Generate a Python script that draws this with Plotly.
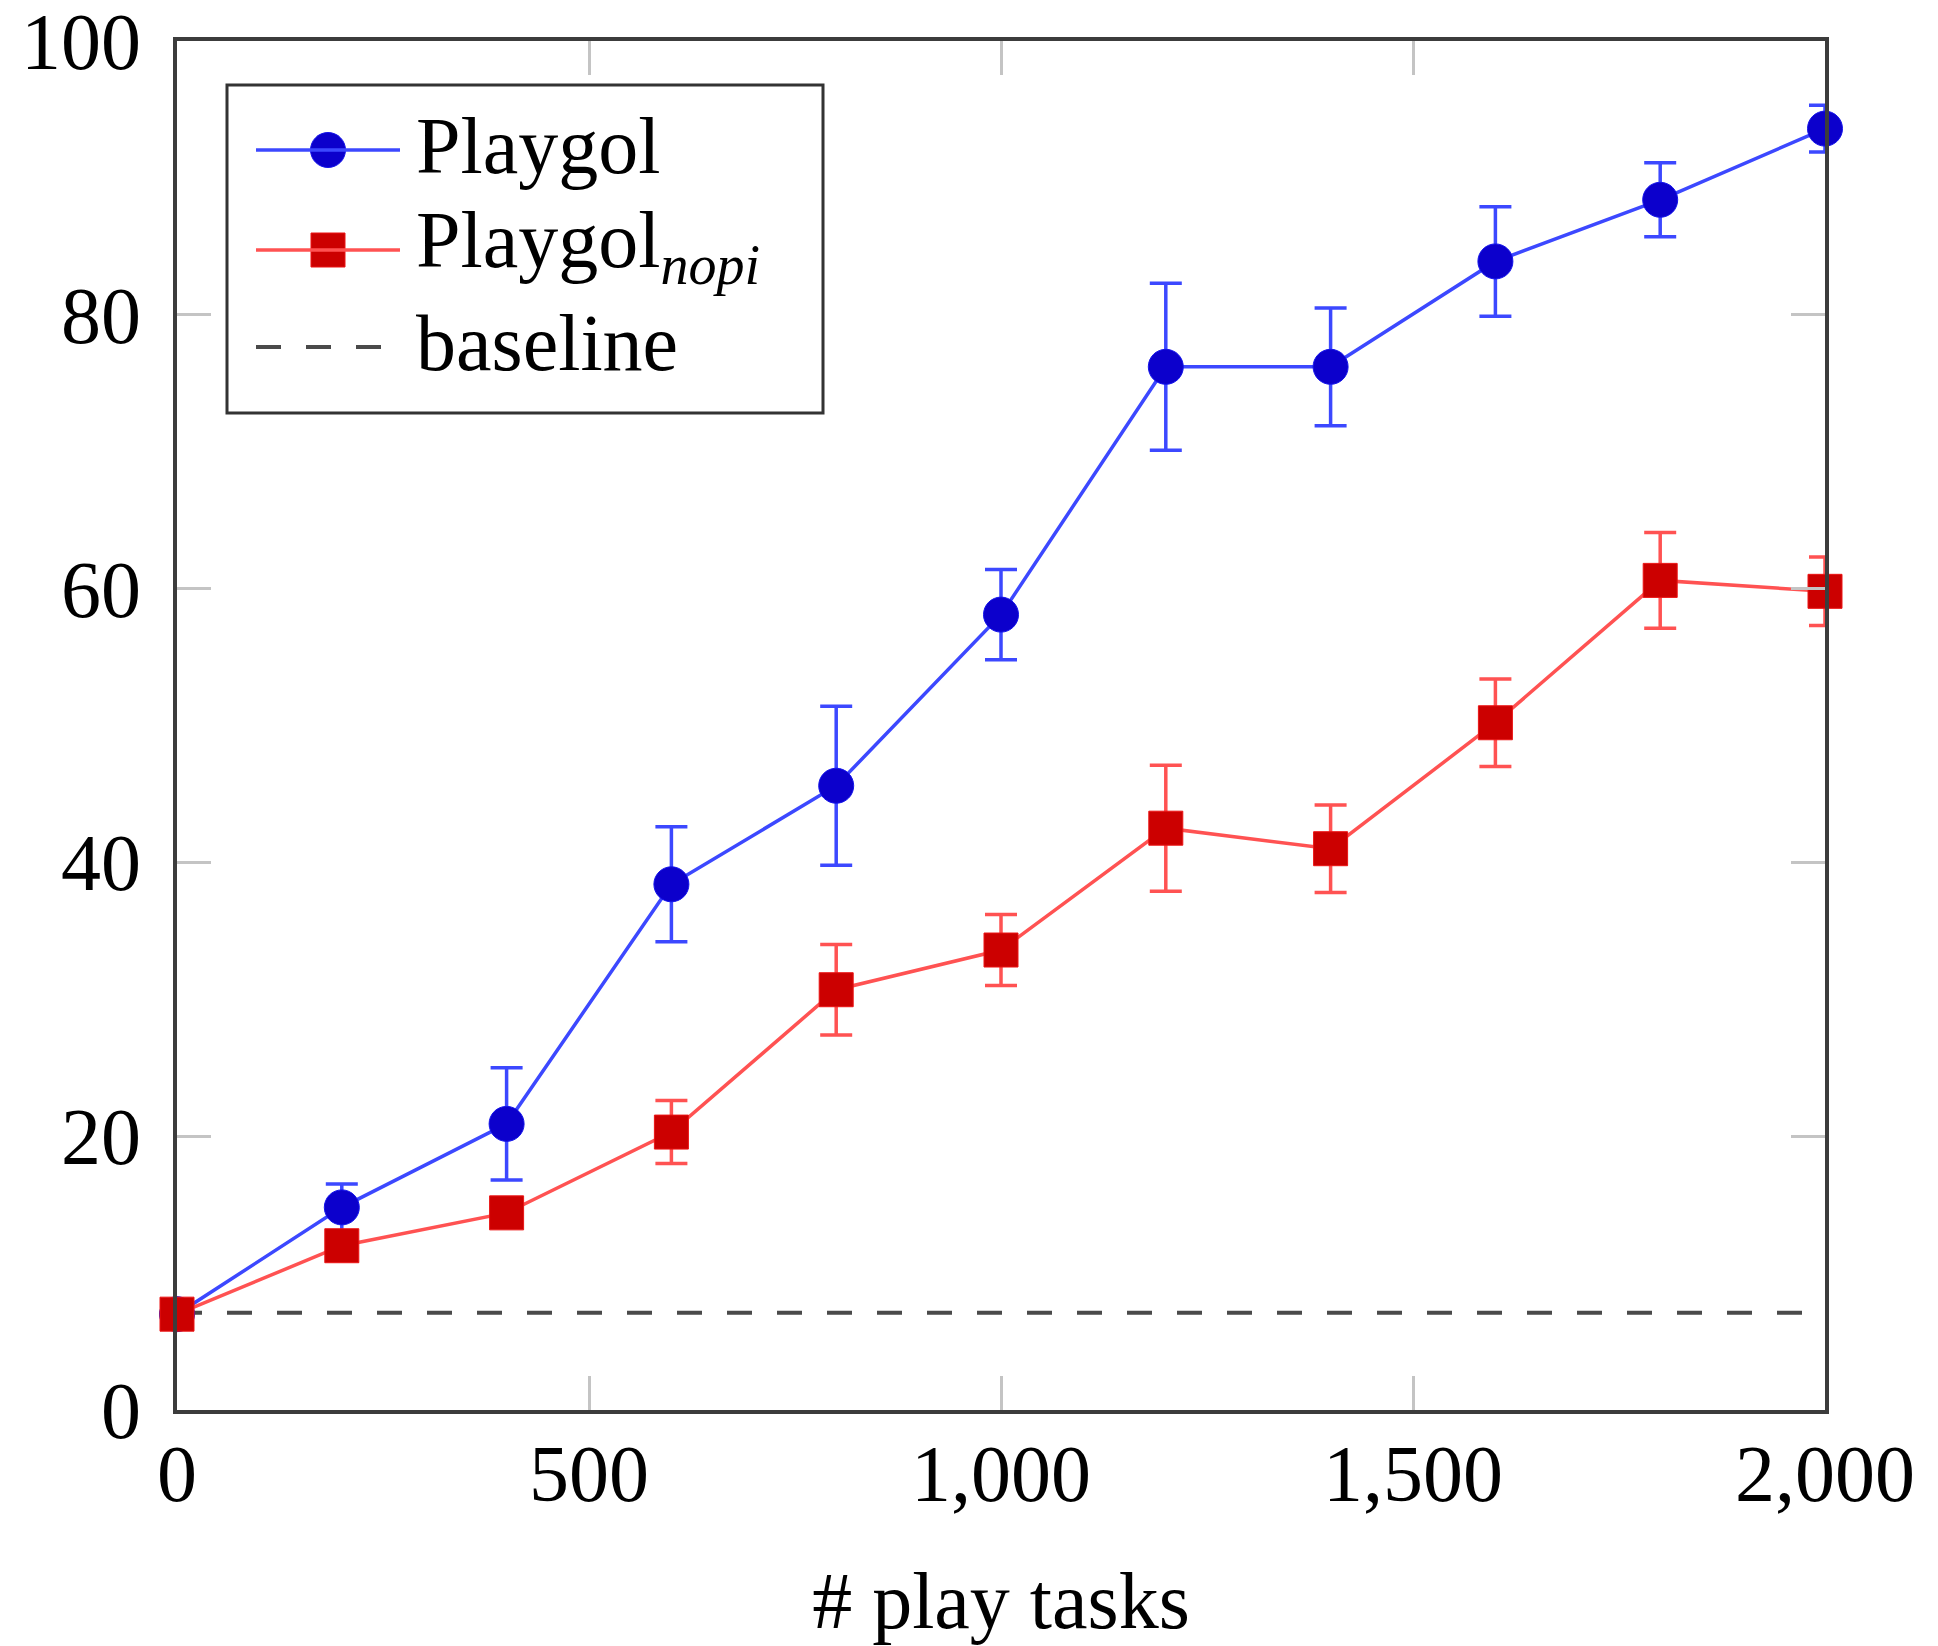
import plotly.graph_objects as go

# ---- data ----
play_tasks = [0, 200, 400, 600, 800, 1000, 1200, 1400, 1600, 1800, 2000]
playgol_mean = [7.0, 14.8, 20.9, 38.4, 45.6, 58.1, 76.2, 76.2, 83.9, 88.4, 93.6]
playgol_err = [0.0, 1.7, 4.1, 4.2, 5.8, 3.3, 6.1, 4.3, 4.0, 2.7, 1.7]
nopi_mean = [7.0, 12.0, 14.4, 20.3, 30.7, 33.6, 42.5, 41.0, 50.2, 60.6, 59.8]
nopi_err = [0.0, 1.0, 1.0, 2.3, 3.3, 2.6, 4.6, 3.2, 3.2, 3.5, 2.5]
baseline_value = 7.1

x_tickvals = [0, 500, 1000, 1500, 2000]
x_ticktext = ["0", "500", "1,000", "1,500", "2,000"]
y_tickvals = [0, 20, 40, 60, 80, 100]
y_ticktext = ["0", "20", "40", "60", "80", "100"]

legend_names = ["Playgol", "Playgol<sub><i>nopi</i></sub>", "baseline"]

# ---- styles ----
FONT = "Liberation Serif"
FS = 80
BLUE_LINE = "rgb(60,72,255)"
BLUE_FILL = "#0c00cc"
RED_LINE = "rgb(255,82,82)"
RED_FILL = "#cc0000"
BASE_COL = "#4a4a4a"
MSIZE = 35
LW = 3.5

# page body has an 8px default margin: compensate so the plot area lands
# at x 177..1825, y 41..1410 in the 1938x1646 viewport
BODY = 8
W, H = 1938 - BODY, 1646 - BODY
ML, MT = 177 - BODY, 41 - BODY
MR = W - ML - 1648
MB = H - MT - 1369

fig = go.Figure()

# baseline
fig.add_trace(go.Scatter(
    x=[play_tasks[0], play_tasks[-1]], y=[baseline_value, baseline_value],
    mode="lines", line=dict(color=BASE_COL, width=4, dash="25px,25px"),
    showlegend=False, hoverinfo="skip"))

# Playgol
fig.add_trace(go.Scatter(
    x=play_tasks, y=playgol_mean, mode="lines+markers",
    line=dict(color=BLUE_LINE, width=LW),
    marker=dict(symbol="circle", size=MSIZE, color=BLUE_FILL,
                line=dict(color="rgb(20,20,235)", width=1)),
    error_y=dict(type="data", array=playgol_err, visible=True,
                 color=BLUE_LINE, thickness=LW, width=16),
    cliponaxis=False, showlegend=False, name="Playgol"))

# Playgol_nopi
fig.add_trace(go.Scatter(
    x=play_tasks, y=nopi_mean, mode="lines+markers",
    line=dict(color=RED_LINE, width=LW),
    marker=dict(symbol="square", size=MSIZE - 1, color=RED_FILL,
                line=dict(color="rgb(235,20,20)", width=1)),
    error_y=dict(type="data", array=nopi_err, visible=True,
                 color=RED_LINE, thickness=LW, width=16),
    cliponaxis=False, showlegend=False, name="Playgol nopi"))

# ---- hand-drawn legend (paper coordinates, from viewport pixels) ----
pw = 1648
ph = 1369


def px(xpix):
    return (xpix - 177) / pw


def py(ypix):
    return (1410 - ypix) / ph


box = dict(x0=px(227), x1=px(823), y0=py(413), y1=py(85))
rows = [py(150), py(250), py(347)]
text_rows = [py(146), py(246), py(343)]
line_x0, line_x1 = px(256), px(400)
mark_x = px(328)
text_x = px(414)

shapes = [dict(type="rect", xref="paper", yref="paper", layer="below",
               line=dict(color="#333333", width=3), fillcolor="white", **box)]
shapes.append(dict(type="line", xref="paper", yref="paper",
                   x0=line_x0, x1=line_x1, y0=rows[0], y1=rows[0],
                   line=dict(color=BLUE_LINE, width=LW)))
shapes.append(dict(type="line", xref="paper", yref="paper",
                   x0=line_x0, x1=line_x1, y0=rows[1], y1=rows[1],
                   line=dict(color=RED_LINE, width=LW)))
shapes.append(dict(type="line", xref="paper", yref="paper",
                   x0=line_x0, x1=line_x1, y0=rows[2], y1=rows[2],
                   line=dict(color=BASE_COL, width=4, dash="25px,25px")))

fig.add_trace(go.Scatter(
    x=[mark_x], y=[rows[0]], xaxis="x2", yaxis="y2", mode="markers",
    marker=dict(symbol="circle", size=MSIZE, color=BLUE_FILL,
                line=dict(color="rgb(20,20,235)", width=1)),
    cliponaxis=False, showlegend=False, hoverinfo="skip"))
fig.add_trace(go.Scatter(
    x=[mark_x], y=[rows[1]], xaxis="x2", yaxis="y2", mode="markers",
    marker=dict(symbol="square", size=MSIZE - 1, color=RED_FILL,
                line=dict(color="rgb(235,20,20)", width=1)),
    cliponaxis=False, showlegend=False, hoverinfo="skip"))

annotations = []
for name, yy in zip(legend_names, text_rows):
    annotations.append(dict(
        text=name, xref="paper", yref="paper", x=text_x, y=yy,
        xanchor="left", yanchor="middle", showarrow=False,
        font=dict(family=FONT, size=FS, color="black")))

axis_common = dict(
    showgrid=False, zeroline=False, automargin=False,
    showline=True, linecolor="#3c3c3c", linewidth=4, mirror="allticks",
    ticks="inside", ticklen=34, tickwidth=3, tickcolor="#c4c4c4",
    ticklabeloverflow="allow",
    tickfont=dict(family=FONT, size=FS, color="black"))

fig.update_layout(
    width=W, height=H,
    margin=dict(l=ML, r=MR, t=MT, b=MB, pad=0, autoexpand=False),
    paper_bgcolor="white", plot_bgcolor="white",
    font=dict(family=FONT, size=FS, color="black"),
    shapes=shapes, annotations=annotations,
    xaxis=dict(range=[0, 2000], tickvals=x_tickvals, ticktext=x_ticktext,
               ticklabelstandoff=-9,
               title=dict(text="# play tasks", font=dict(family=FONT, size=FS),
                          standoff=56),
               **axis_common),
    yaxis=dict(range=[0, 100], tickvals=y_tickvals, ticktext=y_ticktext,
               ticklabelstandoff=16, **axis_common),
    xaxis2=dict(overlaying="x", range=[0, 1], visible=False, fixedrange=True),
    yaxis2=dict(overlaying="y", range=[0, 1], visible=False, fixedrange=True),
)

fig.write_html("out.html")
